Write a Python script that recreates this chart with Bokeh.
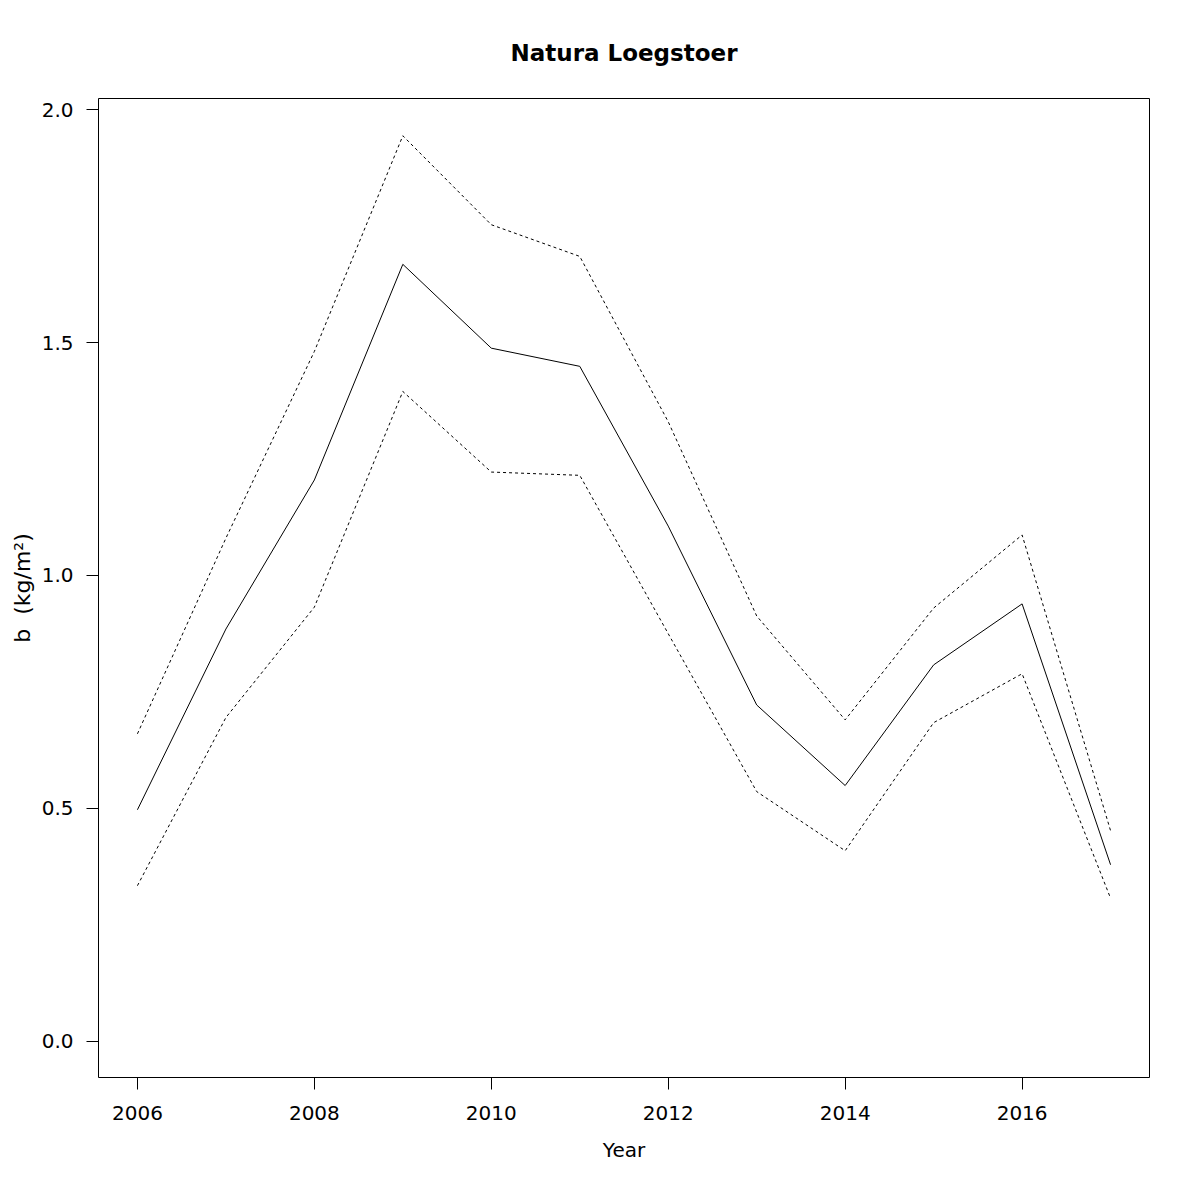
from bokeh.plotting import figure
from bokeh.models import FixedTicker, Range1d
from bokeh.embed import file_html
from bokeh.resources import INLINE

years = [2006, 2007, 2008, 2009, 2010, 2011, 2012, 2013, 2014, 2015, 2016, 2017]
b_mean = [0.497, 0.885, 1.205, 1.668, 1.488, 1.449, 1.106, 0.722, 0.549, 0.808, 0.939, 0.379]
b_upper = [0.660, 1.080, 1.481, 1.944, 1.753, 1.685, 1.330, 0.913, 0.690, 0.930, 1.087, 0.452]
b_lower = [0.334, 0.695, 0.932, 1.395, 1.222, 1.215, 0.875, 0.536, 0.409, 0.684, 0.789, 0.307]

x_ticks = [2006, 2008, 2010, 2012, 2014, 2016]
y_ticks = [0.0, 0.5, 1.0, 1.5, 2.0]
y_tick_labels = ["0.0", "0.5", "1.0", "1.5", "2.0"]

FONT = "DejaVu Sans"

p = figure(width=1184, height=1184, output_backend="svg", toolbar_location=None,
           x_range=Range1d(2005.56, 2017.44), y_range=Range1d(-0.0778, 2.024),
           min_border_left=98, min_border_right=35, min_border_top=98, min_border_bottom=107,
           title="Natura Loegstoer")

p.title.align = "center"
p.title.text_font = FONT
p.title.text_font_size = "23px"
p.title.text_font_style = "bold"
p.title.text_color = "black"
p.title.standoff = 66

p.grid.visible = False
p.outline_line_color = "black"
p.outline_line_width = 1
p.background_fill_color = "white"
p.border_fill_color = "white"

p.line(years, b_mean, line_color="black", line_width=1)
p.line(years, b_upper, line_color="black", line_width=1, line_dash="3 3")
p.line(years, b_lower, line_color="black", line_width=1, line_dash="3 3")

for ax in (p.xaxis[0], p.yaxis[0]):
    ax.axis_line_color = None
    ax.major_tick_out = 12
    ax.major_tick_in = 0
    ax.minor_tick_line_color = None
    ax.major_tick_line_color = "black"
    ax.major_label_text_font = FONT
    ax.major_label_text_font_size = "20px"
    ax.major_label_text_color = "black"
    ax.axis_label_text_font = FONT
    ax.axis_label_text_font_size = "20px"
    ax.axis_label_text_font_style = "normal"
    ax.axis_label_text_color = "black"

p.xaxis.ticker = FixedTicker(ticks=x_ticks)
p.xaxis.major_label_standoff = 16
p.xaxis.axis_label = "Year"
p.xaxis.axis_label_standoff = 15

p.yaxis.ticker = FixedTicker(ticks=y_ticks)
p.yaxis.major_label_overrides = {t: l for t, l in zip(y_ticks, y_tick_labels)}
p.yaxis.major_label_orientation = "horizontal"
p.yaxis.major_label_standoff = 13
p.yaxis.axis_label = "b\u00a0\u00a0(kg/m\u00b2)"
p.yaxis.axis_label_text_font_size = "22px"
p.yaxis.axis_label_standoff = 4

open("out.html", "w").write(file_html(p, INLINE))
